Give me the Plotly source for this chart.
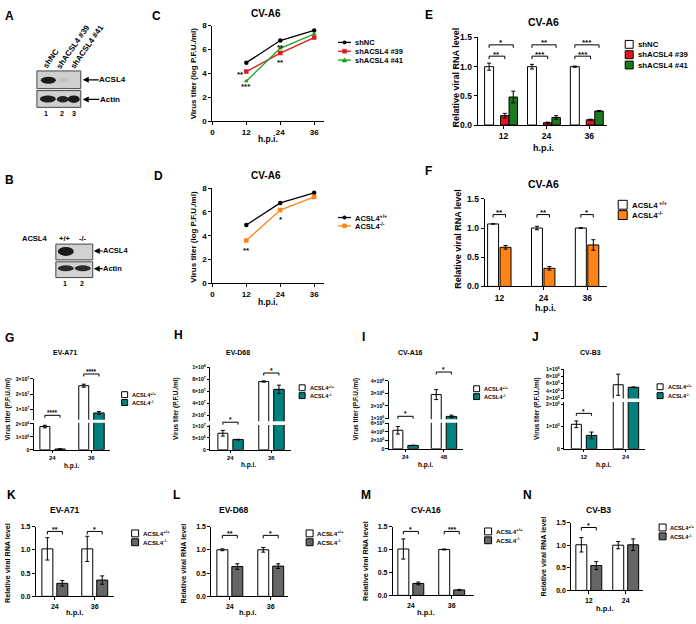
import plotly.graph_objects as go

W, H = 696, 624
FONT = "Liberation Sans, Arial, Helvetica, sans-serif"

# ---------------- data ----------------
C_hpi = [12, 24, 36]
C_shNC = [4.9, 6.75, 7.6]
C_sh39 = [4.15, 5.7, 7.0]
C_sh41 = [3.35, 6.1, 7.3]
C_names = ["shNC", "shACSL4 #39", "shACSL4 #41"]

D_hpi = [12, 24, 36]
D_wt = [4.9, 6.75, 7.6]
D_ko = [3.6, 6.15, 7.25]

E_hpi = ["12", "24", "36"]
E_shNC = [1.0, 1.0, 1.0]
E_shNC_err = [0.06, 0.04, 0.01]
E_sh39 = [0.16, 0.04, 0.09]
E_sh39_err = [0.04, 0.01, 0.01]
E_sh41 = [0.48, 0.13, 0.24]
E_sh41_err = [0.10, 0.03, 0.01]
E_sig_low = ["**", "***", "***"]
E_sig_high = ["*", "**", "***"]

F_hpi = ["12", "24", "36"]
F_wt = [1.07, 1.0, 1.0]
F_wt_err = [0.0, 0.03, 0.005]
F_ko = [0.67, 0.31, 0.71]
F_ko_err = [0.03, 0.03, 0.09]
F_sig = ["**", "**", "*"]

G_hpi = ["24", "36"]
G_wt = [1.8e6, 2.55e7]
G_wt_err = [0.1e6, 0.1e7]
G_ko = [0.06e6, 0.75e7]
G_ko_err = [0.01e6, 0.1e7]
G_sig = ["****", "****"]
G_top_ticks = [1e7, 2e7, 3e7]
G_top_text = ["1×10<sup>7</sup>", "2×10<sup>7</sup>", "3×10<sup>7</sup>"]
G_bot_ticks = [0, 1e6, 2e6]
G_bot_text = ["0", "1×10<sup>6</sup>", "2×10<sup>6</sup>"]

H_hpi = ["24", "36"]
H_wt = [7.0e6, 7.6e7]
H_wt_err = [1.2e6, 0.1e7]
H_ko = [4.3e6, 6.3e7]
H_ko_err = [0.15e6, 0.7e7]
H_sig = ["*", "*"]
H_top_ticks = [2e7, 4e7, 6e7, 8e7, 1e8]
H_top_text = ["2×10<sup>7</sup>", "4×10<sup>7</sup>", "6×10<sup>7</sup>", "8×10<sup>7</sup>", "1×10<sup>8</sup>"]
H_bot_ticks = [0, 5e6, 1e7]
H_bot_text = ["0", "5×10<sup>6</sup>", "1×10<sup>7</sup>"]

I_hpi = ["24", "48"]
I_wt = [4.4e5, 2.9e6]
I_wt_err = [0.9e5, 0.4e6]
I_ko = [0.8e5, 1.15e6]
I_ko_err = [0.05e5, 0.1e6]
I_sig = ["*", "*"]
I_top_ticks = [1e6, 2e6, 3e6, 4e6]
I_top_text = ["1×10<sup>6</sup>", "2×10<sup>6</sup>", "3×10<sup>6</sup>", "4×10<sup>6</sup>"]
I_bot_ticks = [0, 2e5, 4e5, 6e5]
I_bot_text = ["0", "2×10<sup>5</sup>", "4×10<sup>5</sup>", "6×10<sup>5</sup>"]

J_hpi = ["12", "24"]
J_wt = [1.1e5, 5.7e5]
J_wt_err = [0.15e5, 2.9e5]
J_ko = [0.6e5, 5.0e5]
J_ko_err = [0.15e5, 0.1e5]
J_sig = ["*", None]
J_top_ticks = [2e5, 4e5, 6e5, 8e5, 1e6]
J_top_text = ["2×10<sup>5</sup>", "4×10<sup>5</sup>", "6×10<sup>5</sup>", "8×10<sup>5</sup>", "1×10<sup>6</sup>"]
J_bot_ticks = [0, 1e5, 2e5]
J_bot_text = ["0", "1×10<sup>5</sup>", "2×10<sup>5</sup>"]

K_hpi = ["24", "36"]; K_wt = [1.02, 1.02]; K_wt_err = [0.24, 0.27]; K_ko = [0.28, 0.35]; K_ko_err = [0.06, 0.09]; K_sig = ["**", "*"]
L_hpi = ["24", "36"]; L_wt = [1.0, 1.0]; L_wt_err = [0.02, 0.05]; L_ko = [0.64, 0.65]; L_ko_err = [0.06, 0.05]; L_sig = ["**", "*"]
M_hpi = ["24", "36"]; M_wt = [1.01, 1.0]; M_wt_err = [0.22, 0.01]; M_ko = [0.26, 0.12]; M_ko_err = [0.03, 0.01]; M_sig = ["*", "***"]
N_hpi = ["12", "24"]; N_wt = [1.01, 1.0]; N_wt_err = [0.16, 0.08]; N_ko = [0.55, 1.01]; N_ko_err = [0.09, 0.13]; N_sig = ["*", None]

RNA_ticks = [0, 0.5, 1.0, 1.5]
RNA_text = ["0.0", "0.5", "1.0", "1.5"]

# ---------------- colours ----------------
RED = "#e3161d"
GREEN_BAR = "#1b7a1e"
GREEN_LINE = "#1a9e1a"
ORANGE = "#ff8415"
TEAL = "#00817d"
GREY = "#666666"

fig = go.Figure()
AX = []


def add_axes(x0, x1, yb, yt, xr, yr, xvals=None, xtext=None, yvals=None, ytext=None,
             showx=True, xfs=8, yfs=8, tlen=3):
    i = len(AX) + 1
    s = "" if i == 1 else str(i)
    common = dict(showline=True, linecolor="black", linewidth=1, ticks="outside", ticklen=tlen,
                  tickwidth=1, tickcolor="black", showgrid=False, zeroline=False, fixedrange=True)
    xa = dict(common, domain=[x0 / W, x1 / W], range=xr, anchor="y" + s,
              tickfont=dict(family=FONT, size=xfs, color="black", weight="bold"))
    if xvals is not None:
        xa.update(tickmode="array", tickvals=xvals, ticktext=xtext)
    if not showx:
        xa.update(visible=False)
    ya = dict(common, domain=[1 - yb / H, 1 - yt / H], range=yr, anchor="x" + s,
              tickfont=dict(family=FONT, size=yfs, color="black", weight="bold"))
    if yvals is not None:
        ya.update(tickmode="array", tickvals=yvals, ticktext=ytext)
    fig.update_layout({"xaxis" + s: xa, "yaxis" + s: ya})
    ax = dict(x="x" + s, y="y" + s)
    AX.append(ax)
    return ax


def txt(x, y, s, fs, xanchor="center", yanchor="middle", angle=0, bold=True):
    fig.add_annotation(x=x / W, y=1 - y / H, xref="paper", yref="paper", text=s, showarrow=False,
                       font=dict(family=FONT, size=fs, color="black", weight="bold" if bold else "normal"),
                       xanchor=xanchor, yanchor=yanchor, textangle=angle, borderpad=0)


def star(x, y, s, fs):
    # y = desired vertical centre of the asterisks (px)
    txt(x, y + 0.25 * fs, s, fs)


def rect(x0, y0, x1, y1, fill, line="black", lw=1):
    fig.add_shape(type="rect", xref="paper", yref="paper", x0=x0 / W, x1=x1 / W,
                  y0=1 - y0 / H, y1=1 - y1 / H, fillcolor=fill, line=dict(color=line, width=lw))


def ellipse(x0, y0, x1, y1, fill):
    fig.add_shape(type="circle", xref="paper", yref="paper", x0=x0 / W, x1=x1 / W,
                  y0=1 - y0 / H, y1=1 - y1 / H, fillcolor=fill, line=dict(width=0))


def seg(x0, y0, x1, y1, color="black", lw=1):
    fig.add_shape(type="line", xref="paper", yref="paper", x0=x0 / W, x1=x1 / W,
                  y0=1 - y0 / H, y1=1 - y1 / H, line=dict(color=color, width=lw))


def path(pts, color="black", lw=1, fill=None):
    d = "M" + " L".join(f"{px / W},{1 - py / H}" for px, py in pts)
    if fill:
        d += " Z"
    fig.add_shape(type="path", xref="paper", yref="paper", path=d,
                  line=dict(color=color, width=lw), fillcolor=fill if fill else "rgba(0,0,0,0)")


def bracket(xa, xb, y, label, fs, h=3):
    path([(xa, y + h), (xa, y), (xb, y), (xb, y + h)])
    star((xa + xb) / 2, y - 4, label, fs)


def arrow_label(tip_x, y, label, fs, gap):
    fig.add_annotation(x=tip_x / W, y=1 - y / H, xref="paper", yref="paper", text=label,
                       showarrow=True, arrowhead=2, arrowsize=1, arrowwidth=1.2, arrowcolor="black",
                       ax=gap, ay=0, font=dict(family=FONT, size=fs, color="black", weight="bold"),
                       borderpad=0)


def legend_box(x, y, size, color, label, fs, gap=4):
    rect(x, y - size / 2, x + size, y + size / 2, color, "black", 1)
    txt(x + size + gap, y, label, fs, xanchor="left")


def legend_line(x, y, color, symbol, label, fs):
    seg(x, y, x + 13, y, color, 1.3)
    cx = x + 6.5
    if symbol == "circle":
        ellipse(cx - 2, y - 2, cx + 2, y + 2, color)
    elif symbol == "square":
        rect(cx - 2, y - 2, cx + 2, y + 2, color, color, 0.5)
    else:
        path([(cx - 2.4, y + 2), (cx + 2.4, y + 2), (cx, y - 2.4)], color, 0.5, fill=color)
    txt(x + 16, y, label, fs, xanchor="left")


def add_bars(ax, vals, errs, color, off_u, w_u):
    fig.add_trace(go.Bar(x=list(range(len(vals))), y=vals, offset=off_u, width=w_u,
                         marker=dict(color=color, line=dict(color="black", width=1)),
                         error_y=dict(type="data", array=errs, visible=True, color="black",
                                      thickness=1, width=2),
                         xaxis=ax["x"], yaxis=ax["y"], showlegend=False, hoverinfo="skip"))


# ---------------- panel A (blot) ----------------
txt(8, 11, "A", 12)
txt(49, 54, "shNC", 8, angle=-55)
txt(71.5, 42, "shACSL4 #39", 8, angle=-55)
txt(85.5, 42, "shACSL4 #41", 8, angle=-55)
rect(35, 67, 79, 85, "#cfcfcf", "#444444", 1)
ellipse(39, 73, 54, 80, "#1c1c1c")
ellipse(57, 74, 66, 79, "#c2c2c2")
rect(35, 87, 79, 104, "#cfcfcf", "#444444", 1)
ellipse(38, 92, 54, 99, "#1e1e1e")
ellipse(55, 92.5, 67, 99, "#222222")
ellipse(66, 92, 78, 99.5, "#1a1a1a")
arrow_label(81, 76, "ACSL4", 8, 30)
arrow_label(81, 96, "Actin", 8, 27)
txt(44, 110, "1", 7)
txt(60, 110, "2", 7)
txt(72, 110, "3", 7)

# ---------------- panel B (blot) ----------------
txt(8, 178, "B", 12)
txt(33, 237, "ACSL4", 7.5)
txt(63, 237, "+/+", 7.5)
txt(81, 237, "-/-", 7.5)
rect(54, 243, 91, 259, "#d2d2d2", "#444444", 1)
ellipse(56, 246, 72, 255, "#1a1a1a")
rect(54, 261, 91, 277, "#d2d2d2", "#444444", 1)
ellipse(56, 264.5, 72, 270.5, "#2a2a2a")
ellipse(73, 264.5, 89, 270.5, "#2a2a2a")
arrow_label(92, 250, "ACSL4", 7.5, 22)
arrow_label(92, 268, "Actin", 7.5, 19)
txt(63, 283, "1", 7)
txt(80, 283, "2", 7)

# ---------------- panel C (line) ----------------
txt(155, 11, "C", 12)
txt(265, 9, "CV-A6", 10)
axC = add_axes(211, 323, 118, 21, [0, 39.5], [0, 8], [0, 12, 24, 36], ["0", "12", "24", "36"],
               [0, 2, 4, 6, 8], ["0", "2", "4", "6", "8"], xfs=8, yfs=8)
for vals, col, sym in [(C_shNC, "black", "circle"), (C_sh39, RED, "square"), (C_sh41, GREEN_LINE, "triangle-up")]:
    fig.add_trace(go.Scatter(x=C_hpi, y=vals, mode="lines+markers", line=dict(color=col, width=1.3),
                             marker=dict(symbol=sym, size=4.5, color=col), xaxis=axC["x"], yaxis=axC["y"],
                             showlegend=False, hoverinfo="skip"))
star(239, 69, "**", 8)
star(245, 81, "***", 8)
star(279, 41, "**", 8)
star(279, 56, "**", 8)
txt(192, 69, "Virus titer (log P.F.U./ml)", 8, angle=-90)
txt(267, 136, "h.p.i.", 8.5)
legend_line(337, 38, "black", "circle", C_names[0], 7.5)
legend_line(337, 47, RED, "square", C_names[1], 7.5)
legend_line(337, 56, GREEN_LINE, "triangle", C_names[2], 7.5)

# ---------------- panel D (line) ----------------
txt(157, 174, "D", 12)
txt(265, 173, "CV-A6", 10)
axD = add_axes(211, 323, 283, 186, [0, 39.5], [0, 8], [0, 12, 24, 36], ["0", "12", "24", "36"],
               [0, 2, 4, 6, 8], ["0", "2", "4", "6", "8"], xfs=8, yfs=8)
for vals, col, sym in [(D_wt, "black", "circle"), (D_ko, ORANGE, "square")]:
    fig.add_trace(go.Scatter(x=D_hpi, y=vals, mode="lines+markers", line=dict(color=col, width=1.3),
                             marker=dict(symbol=sym, size=4.5, color=col), xaxis=axD["x"], yaxis=axD["y"],
                             showlegend=False, hoverinfo="skip"))
star(245, 247, "**", 8)
star(280, 216, "*", 8)
txt(192, 235, "Virus titer (log P.F.U./ml)", 8, angle=-90)
txt(267, 302, "h.p.i.", 8.5)
legend_line(337, 216, "black", "circle", "ACSL4<sup>+/+</sup>", 7.5)
legend_line(337, 224.5, ORANGE, "square", "ACSL4<sup>-/-</sup>", 7.5)


# ---------------- generic bar panels ----------------
def bar_axes(x0, x1, c0, sp, yb, yt, yr, cats, yvals, ytext, showx=True, xfs=8, yfs=8, tlen=3):
    xr = [(x0 - c0) / sp, (x1 - c0) / sp]
    return add_axes(x0, x1, yb, yt, xr, yr, list(range(len(cats))), cats, yvals, ytext,
                    showx, xfs, yfs, tlen)


def bar_center(c0, sp, gi, off, w):
    return c0 + gi * sp + off + w / 2


# ---------------- panel E ----------------
txt(428, 10, "E", 12)
txt(543, 17, "CV-A6", 10.5)
axE = bar_axes(477, 607, 503, 43, 122, 33, [0, 1.5], E_hpi, RNA_ticks, RNA_text, xfs=8.5, yfs=8.5)
E_series = [(E_shNC, E_shNC_err, "white", -19, 9), (E_sh39, E_sh39_err, RED, -3, 8.5),
            (E_sh41, E_sh41_err, GREEN_BAR, 5.5, 8.5)]
for vals, errs, col, off, w in E_series:
    add_bars(axE, vals, errs, col, off / 43, w / 43)
for gi in range(3):
    xw = bar_center(503, 43, gi, -19, 9)
    xr_ = bar_center(503, 43, gi, -3, 8.5)
    xg = bar_center(503, 43, gi, 5.5, 8.5)
    bracket(xw, xr_, 52, E_sig_low[gi], 8)
    bracket(xw, xg, 40.5, E_sig_high[gi], 8)
txt(455, 74, "Relative viral RNA level", 9, angle=-90)
txt(543, 145, "h.p.i.", 9)
legend_box(625, 40, 8, "white", "shNC", 7.8)
legend_box(625, 50.5, 8, RED, "shACSL4 #39", 7.8)
legend_box(625, 61, 8, GREEN_BAR, "shACSL4 #41", 7.8)

# ---------------- panel F ----------------
txt(428, 169, "F", 12)
txt(543, 182, "CV-A6", 10.5)
axF = bar_axes(484, 607, 499, 44, 286, 197, [0, 1.5], F_hpi, RNA_ticks, RNA_text, xfs=8.5, yfs=8.5)
add_bars(axF, F_wt, F_wt_err, "white", -12 / 44, 11 / 44)
add_bars(axF, F_ko, F_ko_err, ORANGE, 0.5 / 44, 11 / 44)
for gi in range(3):
    bracket(bar_center(499, 44, gi, -12, 11), bar_center(499, 44, gi, 0.5, 11), 213, F_sig[gi], 8)
txt(457, 238, "Relative viral RNA level", 9, angle=-90)
txt(545, 308, "h.p.i.", 9)
legend_box(618, 203, 9, "white", "ACSL4<sup> +/+</sup>", 7.8)
legend_box(618, 213.5, 9, ORANGE, "ACSL4<sup>-/-</sup>", 7.8)


# ---------------- broken-axis titer panels G-J ----------------
def broken_panel(letter, lpos, title, tpos, x0, x1, c0, sp, bot, top, cats, wt, wt_err, ko, ko_err,
                 bot_ticks, bot_text, top_ticks, top_text, sig, sig_y, ytitle_x, xtitle_pos, leg):
    txt(lpos[0], lpos[1], letter, 12)
    txt(tpos[0], tpos[1], title, 7)
    axb = bar_axes(x0, x1, c0, sp, bot[0], bot[1], bot[2], cats, bot_ticks, bot_text,
                   True, 6, 5.2, 2.5)
    axt = bar_axes(x0, x1, c0, sp, top[0], top[1], top[2], cats, top_ticks, top_text,
                   False, 6, 5.2, 2.5)
    for ax in (axb, axt):
        add_bars(ax, wt, wt_err, "white", -12.5 / sp, 10 / sp)
        add_bars(ax, ko, ko_err, TEAL, 2.5 / sp, 10.5 / sp)
    for gi, s in enumerate(sig):
        if s:
            bracket(bar_center(c0, sp, gi, -12.5, 10), bar_center(c0, sp, gi, 2.5, 10.5), sig_y[gi], s, 6.5, 2.5)
    txt(ytitle_x, 410, "Virus titer (P.F.U./ml)", 6.5, angle=-90)
    txt(xtitle_pos[0], xtitle_pos[1], "h.p.i.", 6.5)
    legend_box(leg[0], leg[1], 6, "white", "ACSL4<sup>+/+</sup>", leg[3], 3.5)
    legend_box(leg[0], leg[2], 6, TEAL, "ACSL4<sup>-/-</sup>", leg[3], 3.5)


broken_panel("G", (8, 338), "EV-A71", (63, 353), 32, 108, 50.5, 39,
             (452, 424.5, [0, 2.1e6]), (421.5, 380, [0.3e7, 3.0e7]), G_hpi, G_wt, G_wt_err, G_ko, G_ko_err,
             G_bot_ticks, G_bot_text, G_top_ticks, G_top_text, G_sig, [417, 375], 6, (70, 468),
             (120, 396, 404, 5.6))
broken_panel("H", (177, 335), "EV-D68", (237, 353), 209, 290, 229, 41,
             (452, 426.8, [0, 1.05e7]), (423, 368, [1.0e7, 1.0e8]), H_hpi, H_wt, H_wt_err, H_ko, H_ko_err,
             H_bot_ticks, H_bot_text, H_top_ticks, H_top_text, H_sig, [424, 374], 175, (247, 467),
             (298, 389, 397, 5.6))
broken_panel("I", (363, 337), "CV-A16", (410, 353), 388, 462, 404.5, 38.5,
             (451, 424.5, [0, 6.2e5]), (421, 382, [0.92e6, 4.0e6]), I_hpi, I_wt, I_wt_err, I_ko, I_ko_err,
             I_bot_ticks, I_bot_text, I_top_ticks, I_top_text, I_sig, [418, 373], 355, (425, 467),
             (473, 390, 398, 5.6))
broken_panel("J", (535, 337), "CV-B3", (590, 353), 564, 645, 583.5, 42,
             (451, 403.5, [0, 2.1e5]), (400, 370, [1.9e5, 1.0e6]), J_hpi, J_wt, J_wt_err, J_ko, J_ko_err,
             J_bot_ticks, J_bot_text, J_top_ticks, J_top_text, J_sig, [415, None], 537, (603, 467),
             (657, 388, 397, 5.5))


# ---------------- RNA panels K-N ----------------
def rna_panel(letter, lpos, title, tpos, x0, x1, c0, sp, yb, yt, cats, wt, wt_err, ko, ko_err,
              sig, sig_y, ytitle, xtitle, leg, lfs=6.2):
    txt(lpos[0], lpos[1], letter, 12)
    txt(tpos[0], tpos[1], title, 8.5)
    ax = bar_axes(x0, x1, c0, sp, yb, yt, [0, 1.5], cats, RNA_ticks, RNA_text, True, 7, 7, 3)
    add_bars(ax, wt, wt_err, "white", -13 / sp, 11 / sp)
    add_bars(ax, ko, ko_err, GREY, 2 / sp, 11 / sp)
    for gi, s in enumerate(sig):
        if s:
            bracket(bar_center(c0, sp, gi, -13, 11), bar_center(c0, sp, gi, 2, 11), sig_y, s, 7, 3)
    txt(ytitle[0], ytitle[1], "Relative viral RNA level", 7.2, angle=-90)
    txt(xtitle[0], xtitle[1], "h.p.i.", 7.5)
    legend_box(leg[0], leg[1], 7, "white", "ACSL4<sup>+/+</sup>", lfs, 3)
    legend_box(leg[0], leg[2], 7, GREY, "ACSL4<sup>-/-</sup>", lfs, 3)


rna_panel("K", (10, 498), "EV-A71", (63, 513), 34, 112, 53, 40, 601, 530, K_hpi, K_wt, K_wt_err,
          K_ko, K_ko_err, K_sig, 535, (6, 567), (73, 617), (130, 537, 546))
rna_panel("L", (175, 498), "EV-D68", (233, 513), 210, 287, 228.5, 41, 601, 530, L_hpi, L_wt, L_wt_err,
          L_ko, L_ko_err, L_sig, 539, (182, 567), (247, 617), (305, 537, 546))
rna_panel("M", (365, 498), "CV-A16", (425, 513), 392, 473, 410, 41, 600, 530, M_hpi, M_wt, M_wt_err,
          M_ko, M_ko_err, M_sig, 535, (365, 565), (425, 617), (484, 535, 544))
rna_panel("N", (527, 498), "CV-B3", (598, 513), 571, 643, 588.5, 37, 595, 526, N_hpi, N_wt, N_wt_err,
          N_ko, N_ko_err, N_sig, 531, (543, 560), (605, 613), (659, 531, 540), lfs=5.6)

fig.update_layout(width=W, height=H, margin=dict(l=0, r=0, t=0, b=0),
                  plot_bgcolor="white", paper_bgcolor="white", showlegend=False,
                  barmode="overlay", font=dict(family=FONT, color="black"))

# static figure without the mode bar; remove the default 8px page margin
fig.write_html("out.html", config={"displayModeBar": False, "staticPlot": True},
               post_script="document.body.style.margin='0px';document.body.style.overflow='hidden';")
